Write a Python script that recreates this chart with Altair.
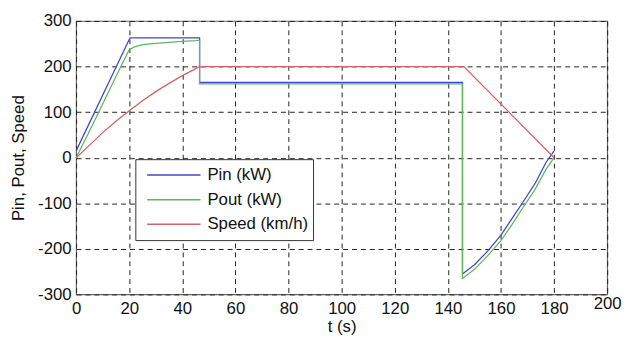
import altair as alt
import pandas as pd

pin_t = [0, 20.3, 46.5, 46.5, 145.5, 145.5, 150, 155, 160, 164, 168, 173, 177, 180]
pin_v = [15, 263, 263, 165, 165, -255, -235, -205, -170, -135, -100, -55, -10, 15]

pout_t = [0, 5, 10, 15, 20, 22, 25, 30, 35, 40, 45, 46.5, 46.5, 145.5, 145.5, 150, 155, 160, 164, 168, 173, 177, 180]
pout_v = [0, 58, 118, 178, 237, 243, 248, 251, 253, 255, 257, 258, 162, 162, -265, -245, -215, -182, -148, -112, -68, -25, 0]

speed_t = [0, 5, 10, 15, 20, 25, 30, 35, 40, 44, 46.5, 146, 180]
speed_v = [0, 27, 55, 80, 103, 125, 145, 163, 180, 192, 200, 200, 0]

series = ["Pin (kW)", "Pout (kW)", "Speed (km/h)"]
colors = ["#4646c6", "#5fb85f", "#d06464"]

rows = []
for name, ts, vs in [(series[0], pin_t, pin_v), (series[1], pout_t, pout_v), (series[2], speed_t, speed_v)]:
    for i, (t, v) in enumerate(zip(ts, vs)):
        rows.append({"t": t, "v": v, "series": name, "i": i})
df = pd.DataFrame(rows)

font = "Liberation Sans"

chart = alt.Chart(df).mark_line(strokeWidth=1.3).encode(
    x=alt.X("t:Q", scale=alt.Scale(domain=[0, 200], nice=False),
            axis=alt.Axis(title="t (s)", values=list(range(0, 201, 20)), grid=True,
                          gridDash=[5, 4], gridColor="#222", gridOpacity=1, gridWidth=1,
                          ticks=False, domain=False,
                          labelExpr="'' + datum.value",
                          labelPadding=alt.ExprRef("datum.value == 200 ? 1 : 6"),
                          labelFlush=False, labelOverlap=False, titlePadding=3)),
    y=alt.Y("v:Q", scale=alt.Scale(domain=[-300, 300], nice=False),
            axis=alt.Axis(title="Pin, Pout, Speed", values=list(range(-300, 301, 100)), grid=True,
                          gridDash=[5, 4], gridColor="#222", gridOpacity=1, gridWidth=1,
                          ticks=False, domain=False, labelPadding=5, titlePadding=10,
                          labelExpr="'' + datum.value",
                          labelFlush=False, labelOverlap=False)),
    color=alt.Color("series:N", scale=alt.Scale(domain=series, range=colors),
                    legend=alt.Legend(title=None, orient="none", legendX=60, legendY=140,
                                      symbolType="stroke", symbolSize=2916, symbolStrokeWidth=1.5,
                                      symbolOffset=7,
                                      clipHeight=24, rowPadding=1, labelFontSize=17, labelFont=font,
                                      labelColor="#111", labelOffset=6,
                                      fillColor="white", strokeColor="#333", padding=4,
                                      offset=0)),
    order="i:Q",
).properties(width=538, height=277, padding={"left": 69, "top": 11, "right": 15, "bottom": 40},
             autosize=alt.AutoSizeParams(type="none"), background="white"
).configure_view(stroke="#666", strokeWidth=1.2
).configure_axis(labelFont=font, titleFont=font, labelFontSize=17, titleFontSize=17,
                 labelColor="#111", titleColor="#111", titleFontWeight="normal")

chart.save("out.html", embed_options={"renderer": "svg", "actions": False})
